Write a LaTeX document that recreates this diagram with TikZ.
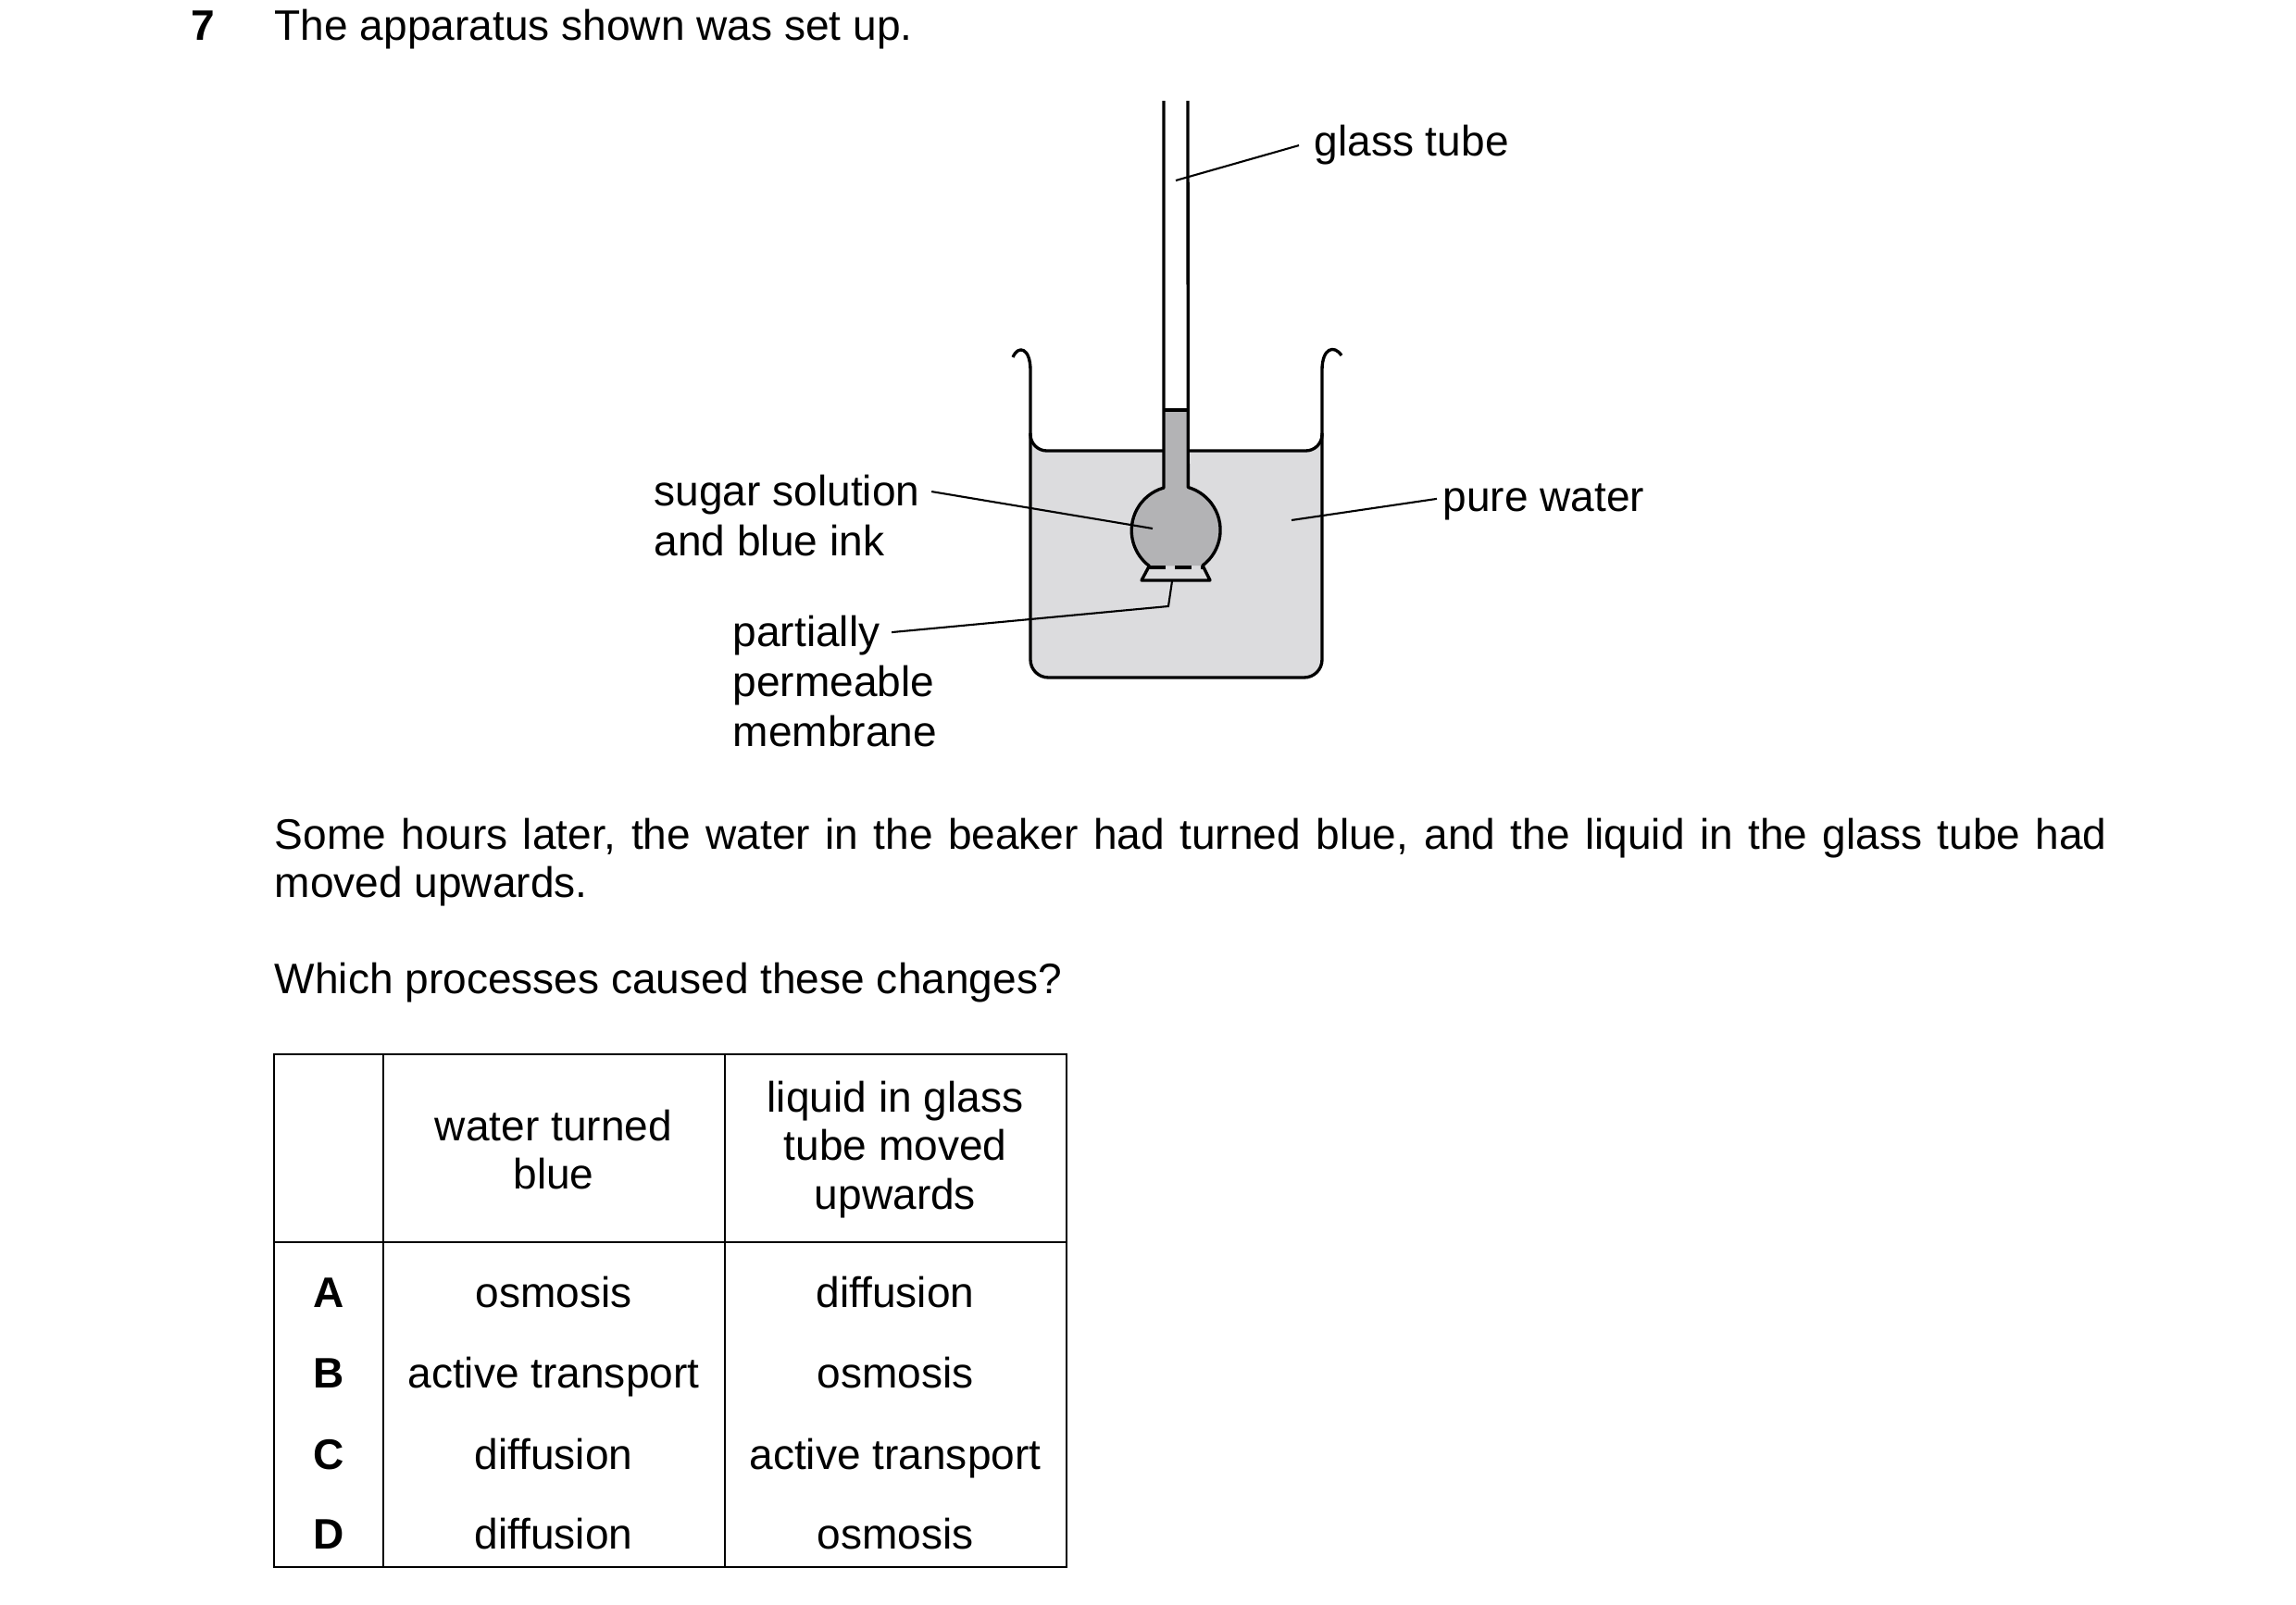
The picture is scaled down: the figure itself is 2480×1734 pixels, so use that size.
\documentclass[tikz,border=0pt]{standalone}
\usepackage{fontspec}
\setmainfont{Liberation Sans}
\usetikzlibrary{positioning}
\definecolor{watercol}{HTML}{DCDCDE}
\definecolor{sugarcol}{HTML}{B3B3B5}
\begin{document}
\fontsize{13.1}{15.0}\selectfont
\begin{tikzpicture}[x=0.01cm,y=-0.01cm,
  lbl/.style={anchor=base west,inner sep=0pt},
  lblc/.style={anchor=base,inner sep=0pt},
  pointer/.style={line width=0.6pt},
  glass/.style={line width=0.95pt,line join=round}]
		%% page frame
		\useasboundingbox (0,0) rectangle (2480,1734);
		%% question
		\node[lbl] (qnum) at (206,44) {\textbf{7}};
		\node[lbl] (qtext) at (296,44) {The apparatus shown was set up.};
		%% water in the beaker
		\fill[watercol] (1113,466) -- (1113,712) {[rounded corners=5.5pt] -- (1113,732) -- (1428,732)} -- (1428,466) {[rounded corners=5pt] -- (1428,487) -- (1113,487)} -- cycle;
		\draw[glass] (1113,468) {[rounded corners=5pt] -- (1113,487) -- (1428,487)} -- (1428,468);
		%% sugar solution in bulb and tube
		\fill[sugarcol] (1257,443) -- (1257,527) arc[start angle=254,end angle=127,radius=48] -- (1299,611) arc[start angle=53,end angle=-74,radius=48] -- (1283,443) -- cycle;
		\draw[glass] (1257,443) -- (1283,443);
		%% beaker
		\draw[glass] (1094,386) .. controls (1100,372) and (1113,376) .. (1113,400) {[rounded corners=5.5pt] -- (1113,732) -- (1428,732)} -- (1428,400) .. controls (1428,376) and (1441,372) .. (1449,384);
		%% thistle funnel
		\draw[glass] (1257,109) -- (1257,527) arc[start angle=254,end angle=127,radius=48] -- (1233,627) -- (1307,627) -- (1299,611) arc[start angle=53,end angle=-74,radius=48] -- (1283,109);
		\draw[glass,dash pattern=on 5pt off 3pt] (1241,613) -- (1299,613);
		%% labels
		\node[lbl] (tube) at (1419,169) {glass tube};
		\node[lbl] (sugar) at (706,547) {sugar solution};
		\node[lbl] (ink) at (706,601) {and blue ink};
		\node[lbl] (pure) at (1558,553) {pure water};
		\node[lbl] (memA) at (791,699) {partially};
		\node[lbl] (memB) at (791,753) {permeable};
		\node[lbl] (memC) at (791,807) {membrane};
		\coordinate (tubept) at (1270,195);
		\coordinate (sugarpt) at (1245,571);
		\coordinate (purept) at (1395,562);
		\coordinate (mempt) at (1266,628);
		\draw[pointer] (tube.west) ++(-16,0) -- (tubept);
		\draw[pointer] (sugar.east) ++(12,-4) -- (sugarpt);
		\draw[pointer] (pure.west) ++(-6,-4) -- (purept);
		\draw[pointer] (memA.east) ++(12,-4) -- (1262,655) -- (mempt);
		%% text
		\node[anchor=north west,inner sep=0pt,text width=19.78cm,align=justify] (para) at (296,883)
		{Some hours later, the water in the beaker had turned blue, and the liquid in the glass tube had moved upwards.};
		\node[lbl] (which) at (296,1074) {Which processes caused these changes?};
		%% table
		\draw[line width=0.6pt] (296,1139) rectangle (1152,1693);
		\draw[line width=0.6pt] (296,1342) -- (1152,1342) (414,1139) -- (414,1693) (783,1139) -- (783,1693);
		\node[align=center,inner sep=0pt] (hA) at (598,1242) {water turned\\blue};
		\node[align=center,inner sep=0pt] (hB) at (967,1242) {liquid in glass\\tube moved\\upwards};
		\foreach \l/\a/\b [count=\i] in {A/osmosis/diffusion,B/active transport/osmosis,C/diffusion/active transport,D/diffusion/osmosis}{
			\node[lblc] (row\l) at (355,1326+87*\i) {\textbf{\l}};
			\node[lblc] (colA\l) at (598,1326+87*\i) {\a};
			\node[lblc] (colB\l) at (967,1326+87*\i) {\b};
		}
	\end{tikzpicture}
\end{document}
